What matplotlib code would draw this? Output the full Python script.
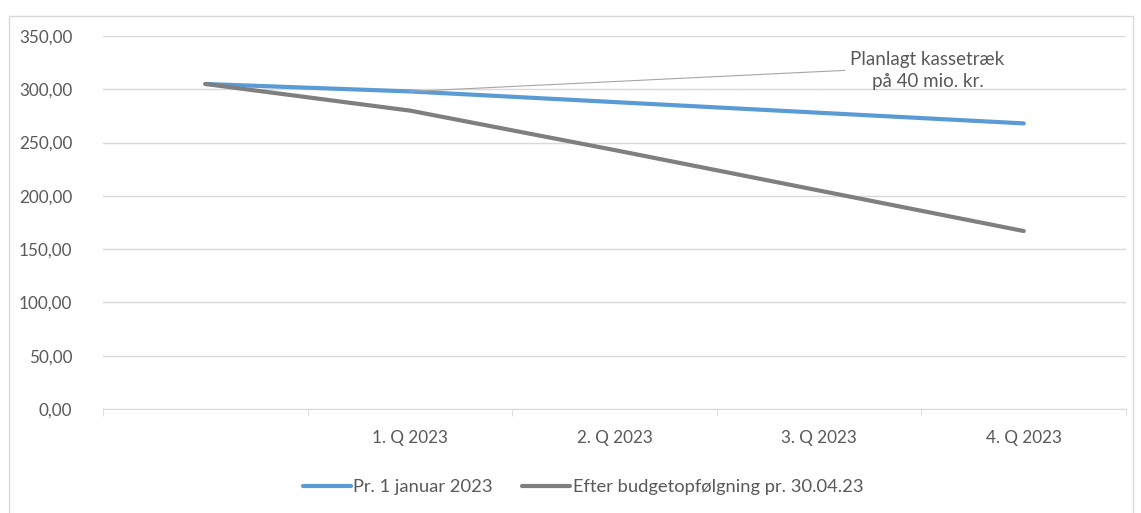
import matplotlib.pyplot as plt
from matplotlib.patches import Rectangle

plt.rcParams['font.family'] = ['Lato', 'DejaVu Sans']

# Data
categories = ["", "1. Q 2023", "2. Q 2023", "3. Q 2023", "4. Q 2023"]
pr_januar = [305, 298, 288, 278, 268]
efter_budget = [305, 280, 243, 205, 167]
y_ticks = [0, 50, 100, 150, 200, 250, 300, 350]

txt_col = "#595959"
grid_col = "#D9D9D9"

fig = plt.figure(figsize=(11.41, 5.13), dpi=100)
ax = fig.add_axes([0.0903, 0.2027, 0.8966, 0.7271])

# outer chart border
fig.patches.append(Rectangle((9 / 1141, -0.05), 1124 / 1141, 0.035 + 1.0 - 8 / 513,
                             transform=fig.transFigure, fill=False,
                             edgecolor=grid_col, lw=1.0))

x = range(len(categories))
ax.plot(x, pr_januar, color="#5B9BD5", lw=3, solid_capstyle='round',
        label="Pr. 1 januar 2023", zorder=3)
ax.plot(x, efter_budget, color="#7F7F7F", lw=3, solid_capstyle='round',
        label="Efter budgetopfølgning pr. 30.04.23", zorder=3)

ax.set_xlim(-0.5, len(categories) - 0.5)
ax.set_ylim(0, 350)
ax.set_yticks(y_ticks)
ax.set_yticklabels([f"{v:.2f}".replace(".", ",") for v in y_ticks])
ax.yaxis.grid(True, color=grid_col, lw=1)
ax.set_axisbelow(True)

ax.set_xticks(list(x))
ax.set_xticklabels(categories)
ax.set_xticks([i - 0.5 for i in range(len(categories) + 1)], minor=True)
ax.tick_params(axis='x', which='major', length=0, pad=15, labelsize=12.3, labelcolor=txt_col)
ax.tick_params(axis='x', which='minor', length=5, color=grid_col, direction='out')
ax.tick_params(axis='y', length=0, pad=22, labelsize=12.3, labelcolor=txt_col)

for s in ['top', 'right', 'left']:
    ax.spines[s].set_visible(False)
ax.spines['bottom'].set_color(grid_col)

ax.annotate("Planlagt kassetræk\npå 40 mio. kr.", xy=(1, pr_januar[1]),
            xytext=(3.53, 318), ha='center', va='center', fontsize=13.5,
            color=txt_col, linespacing=1.35,
            arrowprops=dict(arrowstyle='-', color='#A6A6A6', lw=0.8,
                            relpos=(0, 0.5), shrinkA=2, shrinkB=0))

fig.legend(loc='center', bbox_to_anchor=(0.511, 0.05), ncol=2, frameon=False,
           fontsize=13.2, labelcolor=txt_col, handlelength=2.6,
           handletextpad=0.15, columnspacing=1.6)

fig.savefig("out.png", dpi=100)
